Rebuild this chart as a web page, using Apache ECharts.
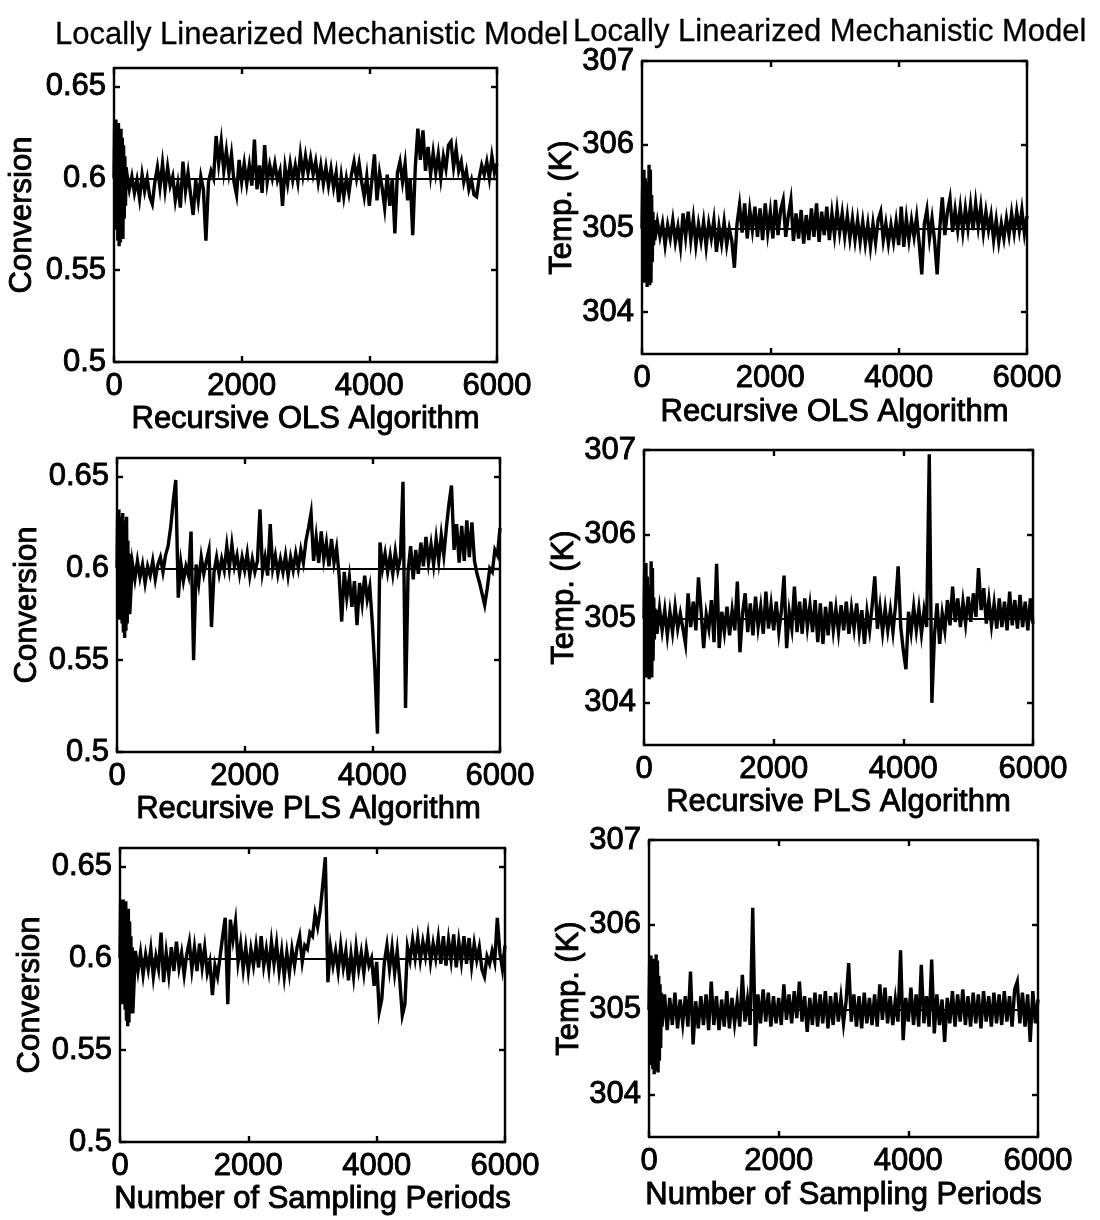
<!DOCTYPE html>
<html>
<head>
<meta charset="utf-8">
<script src="https://cdn.jsdelivr.net/npm/echarts@6/dist/echarts.min.js"></script>
<style>
  html, body { margin: 0; padding: 0; background: #fff; }
  #chart { width: 1100px; height: 1220px; }
</style>
</head>
<body>
<div id="chart"></div>
<script>
// ---- sampling layout: dense start-up samples, then the long run ----
const startupStep = 10;   // periods between start-up samples (periods 0..190)
const mainStart = 200;    // first period of the long run
const mainStep = 40;      // periods between long-run samples (200..6000)

// ---- tick values ----
const xTicks = [0, 2000, 4000, 6000];
const convTicks = [0.5, 0.55, 0.6, 0.65];
const tempTicks = [304, 305, 306, 307];

// ---- set points ----
const convSetpoint = 0.6;
const tempSetpoint = 305;

// ---- texts ----
const titleText = 'Locally Linearized Mechanistic Model';
const rowLabels = ['Recursive OLS Algorithm', 'Recursive PLS Algorithm', 'Number of Sampling Periods'];
const convName = 'Conversion';
const tempName = 'Temp. (K)';

// ---- recursive OLS: conversion ----
const olsConvStartup = [0.600, 0.630, 0.572, 0.632, 0.575, 0.628, 0.566, 0.630, 0.563, 0.625,
  0.565, 0.627, 0.570, 0.622, 0.567, 0.618, 0.578, 0.612, 0.585, 0.606];
const olsConvMain = [
  0.603, 0.594, 0.601, 0.592, 0.599, 0.589, 0.602, 0.593, 0.600, 0.590,
  0.586, 0.598, 0.606, 0.595, 0.608, 0.594, 0.606, 0.596, 0.601, 0.588,
  0.597, 0.584, 0.609, 0.593, 0.603, 0.591, 0.580, 0.599, 0.588, 0.601,
  0.594, 0.566, 0.598, 0.604, 0.600, 0.623, 0.608, 0.620, 0.604, 0.615,
  0.603, 0.613, 0.598, 0.591, 0.610, 0.598, 0.608, 0.597, 0.607, 0.596,
  0.621, 0.594, 0.607, 0.592, 0.618, 0.598, 0.607, 0.600, 0.608, 0.599,
  0.604, 0.585, 0.606, 0.597, 0.608, 0.599, 0.607, 0.598, 0.613, 0.602,
  0.612, 0.603, 0.611, 0.602, 0.609, 0.598, 0.607, 0.597, 0.606, 0.596,
  0.605, 0.595, 0.603, 0.587, 0.601, 0.590, 0.600, 0.592, 0.602, 0.609,
  0.600, 0.608, 0.598, 0.590, 0.601, 0.585, 0.599, 0.613, 0.588, 0.603,
  0.595, 0.584, 0.602, 0.585, 0.600, 0.570, 0.603, 0.609, 0.598, 0.608,
  0.588, 0.600, 0.569, 0.606, 0.627, 0.610, 0.626, 0.604, 0.617, 0.602,
  0.614, 0.603, 0.613, 0.600, 0.612, 0.605, 0.618, 0.620, 0.606, 0.616,
  0.604, 0.609, 0.598, 0.604, 0.594, 0.599, 0.591, 0.590, 0.600, 0.607,
  0.602, 0.609, 0.600, 0.612, 0.603, 0.608];

// ---- recursive OLS: temperature ----
const olsTempStartup = [305.00, 305.50, 304.60, 305.70, 304.35, 305.60, 304.40, 305.30, 304.30, 305.55,
  304.50, 305.76, 304.32, 305.70, 304.35, 305.40, 304.60, 305.20, 304.80, 305.10];
const olsTempMain = [
  304.86, 305.08, 304.90, 305.06, 304.80, 305.04, 304.88, 305.10, 304.84, 305.02,
  304.78, 305.18, 304.90, 305.20, 304.86, 305.12, 304.80, 305.05, 304.85, 305.08,
  304.78, 305.06, 304.88, 305.10, 304.72, 305.02, 304.82, 305.08, 304.80, 305.00,
  304.85, 304.53, 305.05, 305.28, 304.95, 305.30, 304.88, 305.22, 304.98, 305.26,
  304.90, 305.24, 304.86, 305.30, 304.95, 305.20, 304.88, 305.34, 304.92, 305.22,
  305.34, 304.90, 305.15, 305.34, 304.85, 305.18, 304.88, 305.22, 304.82, 305.16,
  304.86, 305.24, 304.90, 305.30, 304.84, 305.20, 304.92, 305.26, 304.86, 305.18,
  304.92, 305.22, 304.95, 305.18, 304.90, 305.15, 304.88, 305.12, 304.86, 305.10,
  304.84, 305.08, 304.82, 305.05, 304.78, 305.06, 304.83, 305.10, 305.20, 304.86,
  305.06, 304.82, 305.04, 304.84, 305.08, 304.80, 305.26, 304.78, 305.12, 304.86,
  305.10, 304.90, 305.14, 304.82, 304.45, 305.05, 305.22, 304.88, 305.12, 304.85,
  304.45, 305.00, 305.37, 304.92, 305.20, 305.36, 304.96, 305.22, 304.98, 305.25,
  304.96, 305.24, 305.00, 305.28, 304.98, 305.30, 305.02, 305.26, 304.95, 305.20,
  304.98, 305.16, 304.86, 305.10, 304.84, 305.06, 304.88, 305.12, 304.92, 305.18,
  304.95, 305.20, 304.98, 305.22, 304.94, 305.15];

// ---- recursive PLS: conversion ----
const plsConvStartup = [0.600, 0.630, 0.575, 0.632, 0.572, 0.628, 0.578, 0.625, 0.570, 0.630,
  0.565, 0.626, 0.562, 0.620, 0.566, 0.628, 0.570, 0.615, 0.580, 0.608];
const plsConvMain = [
  0.575, 0.603, 0.594, 0.604, 0.595, 0.602, 0.592, 0.601, 0.596, 0.604,
  0.594, 0.602, 0.606, 0.598, 0.607, 0.612, 0.622, 0.636, 0.648, 0.584,
  0.603, 0.593, 0.601, 0.596, 0.620, 0.550, 0.602, 0.592, 0.606, 0.597,
  0.604, 0.610, 0.568, 0.598, 0.606, 0.597, 0.605, 0.599, 0.612, 0.600,
  0.613, 0.601, 0.607, 0.597, 0.606, 0.599, 0.608, 0.596, 0.605, 0.598,
  0.604, 0.632, 0.598, 0.606, 0.596, 0.624, 0.600, 0.607, 0.597, 0.605,
  0.598, 0.607, 0.596, 0.606, 0.599, 0.608, 0.600, 0.610, 0.603, 0.615,
  0.622, 0.630, 0.604, 0.617, 0.603, 0.620, 0.605, 0.614, 0.601, 0.616,
  0.603, 0.611, 0.596, 0.571, 0.598, 0.584, 0.595, 0.579, 0.593, 0.569,
  0.592, 0.581, 0.596, 0.583, 0.590, 0.570, 0.545, 0.510, 0.614, 0.600,
  0.608, 0.598, 0.607, 0.597, 0.609, 0.599, 0.606, 0.647, 0.524, 0.598,
  0.612, 0.594, 0.610, 0.597, 0.614, 0.601, 0.617, 0.603, 0.613, 0.602,
  0.616, 0.604, 0.618, 0.607, 0.622, 0.635, 0.645, 0.610, 0.624, 0.603,
  0.623, 0.604, 0.626, 0.606, 0.625, 0.604, 0.597, 0.592, 0.586, 0.580,
  0.589, 0.600, 0.598, 0.610, 0.607, 0.622];

// ---- recursive PLS: temperature ----
const plsTempStartup = [305.00, 305.60, 304.50, 305.66, 304.30, 305.50, 304.35, 305.40, 304.28, 305.30,
  304.40, 305.68, 304.30, 305.60, 304.50, 305.25, 304.75, 305.12, 304.85, 305.10];
const plsTempMain = [
  304.82, 305.12, 304.86, 305.10, 304.80, 305.08, 304.84, 305.14, 304.88, 305.06,
  304.88, 304.70, 305.30, 304.90, 305.20, 304.86, 305.49, 305.10, 304.65, 305.05,
  304.88, 305.22, 304.72, 305.65, 304.65, 305.08, 304.84, 305.14, 304.80, 305.10,
  304.86, 305.44, 304.60, 305.06, 305.30, 304.84, 305.18, 304.80, 305.26, 304.90,
  305.14, 304.82, 305.32, 304.88, 305.16, 304.86, 305.20, 304.84, 305.10, 305.51,
  304.65, 305.08, 304.88, 305.38, 304.84, 305.20, 304.82, 305.24, 304.90, 305.16,
  304.84, 305.22, 304.72, 305.18, 304.70, 305.14, 304.80, 305.20, 304.86, 305.12,
  304.84, 305.16, 304.86, 305.20, 304.82, 305.12, 304.88, 305.18, 304.84, 305.10,
  304.70, 305.08, 304.86, 305.16, 305.50, 304.88, 305.14, 304.84, 305.12, 304.86,
  305.10, 304.84, 305.16, 305.62, 304.90, 304.62, 304.40, 305.08, 304.84, 305.14,
  304.86, 305.12, 304.82, 305.10, 304.90, 306.95, 304.00, 304.80, 305.18, 304.70,
  305.06, 304.86, 305.22, 304.92, 305.38, 304.96, 305.24, 304.90, 305.20, 304.94,
  305.26, 304.96, 305.30, 305.02, 305.60, 305.10, 305.36, 304.94, 305.22, 304.92,
  305.18, 304.88, 305.24, 304.90, 305.20, 304.86, 305.32, 304.92, 305.22, 304.88,
  305.28, 304.90, 305.20, 304.86, 305.24, 304.94];

// ---- mechanistic model: conversion ----
const mechConvStartup = [0.600, 0.632, 0.578, 0.630, 0.575, 0.632, 0.580, 0.628, 0.572, 0.631,
  0.566, 0.625, 0.563, 0.627, 0.565, 0.620, 0.570, 0.612, 0.578, 0.606];
const mechConvMain = [
  0.570, 0.604, 0.593, 0.603, 0.591, 0.602, 0.594, 0.605, 0.590, 0.601,
  0.594, 0.614, 0.587, 0.603, 0.591, 0.606, 0.593, 0.609, 0.595, 0.603,
  0.591, 0.602, 0.609, 0.594, 0.606, 0.593, 0.608, 0.595, 0.606, 0.592,
  0.598, 0.580, 0.596, 0.590, 0.601, 0.612, 0.622, 0.575, 0.621, 0.610,
  0.620, 0.598, 0.608, 0.594, 0.606, 0.593, 0.605, 0.596, 0.607, 0.595,
  0.612, 0.596, 0.605, 0.594, 0.609, 0.597, 0.608, 0.593, 0.604, 0.590,
  0.603, 0.592, 0.605, 0.596, 0.606, 0.612, 0.598, 0.607, 0.605, 0.614,
  0.612, 0.624, 0.617, 0.626, 0.640, 0.655, 0.587, 0.606, 0.596, 0.604,
  0.593, 0.607, 0.595, 0.604, 0.588, 0.602, 0.590, 0.606, 0.594, 0.603,
  0.592, 0.605, 0.596, 0.600, 0.585, 0.598, 0.571, 0.578, 0.598, 0.607,
  0.594, 0.606, 0.592, 0.604, 0.588, 0.569, 0.575, 0.606, 0.599, 0.610,
  0.600, 0.611, 0.599, 0.609, 0.601, 0.612, 0.598, 0.608, 0.600, 0.611,
  0.597, 0.612, 0.596, 0.610, 0.599, 0.613, 0.595, 0.609, 0.598, 0.612,
  0.597, 0.611, 0.596, 0.608, 0.599, 0.606, 0.594, 0.590, 0.601, 0.597,
  0.604, 0.598, 0.622, 0.603, 0.594, 0.607];

// ---- mechanistic model: temperature ----
const mechTempStartup = [305.00, 305.55, 304.50, 305.64, 304.35, 305.45, 304.30, 305.60, 304.24, 305.50,
  304.28, 305.65, 304.35, 305.58, 304.26, 305.40, 304.40, 305.30, 304.55, 305.20];
const mechTempMain = [
  304.80, 305.18, 304.76, 305.14, 304.82, 305.20, 304.78, 305.12, 304.84, 305.16,
  304.80, 305.45, 304.59, 305.10, 304.78, 305.16, 304.82, 305.18, 304.76, 305.33,
  304.82, 305.16, 304.76, 305.12, 304.80, 305.22, 304.78, 305.14, 304.84, 305.10,
  304.80, 305.41, 304.86, 305.12, 304.82, 306.20, 304.57, 305.18, 304.84, 305.24,
  304.86, 305.20, 304.80, 305.16, 304.84, 305.14, 304.82, 305.30, 304.88, 305.18,
  304.84, 305.22, 304.90, 305.33, 304.86, 305.16, 304.74, 305.14, 304.82, 305.20,
  304.80, 305.18, 304.84, 305.22, 304.78, 305.16, 304.82, 305.20, 304.86, 305.14,
  304.84, 305.10, 305.55, 304.86, 305.18, 304.80, 305.16, 304.78, 305.20, 304.84,
  305.14, 304.82, 305.18, 304.80, 305.30, 304.88, 305.26, 304.84, 305.16, 304.82,
  305.12, 304.86, 305.70, 304.64, 305.14, 304.86, 305.26, 304.82, 305.18, 304.80,
  305.53, 304.84, 305.16, 304.80, 305.59, 304.72, 305.18, 304.82, 305.12, 304.62,
  305.14, 304.84, 305.22, 304.80, 305.18, 304.86, 305.24, 304.82, 305.16, 304.80,
  305.20, 304.84, 305.18, 304.78, 305.22, 304.86, 305.16, 304.80, 305.20, 304.84,
  305.18, 304.82, 305.22, 304.86, 305.16, 304.80, 305.24, 305.33, 304.84, 305.20,
  304.80, 305.18, 304.62, 305.22, 304.84, 305.12];

// ---- drawing ----
const FONT = "'Liberation Sans', Arial, Helvetica, sans-serif";
const INK = '#000';

function trace(startup, main) {
  const pts = startup.map((v, i) => [i * startupStep, v]);
  return pts.concat(main.map((v, i) => [mainStart + i * mainStep, v]));
}

// one entry per panel: plot box, variable and axis-name spacing
const panels = [
  { box: [114, 68, 383, 294],  kind: 'conv', row: 0, s: olsConvStartup,  m: olsConvMain,  yGap: 76, xGap: 40 },
  { box: [642, 61, 385, 293],  kind: 'temp', row: 0, s: olsTempStartup,  m: olsTempMain,  yGap: 56, xGap: 43 },
  { box: [117, 458, 383, 294], kind: 'conv', row: 1, s: plsConvStartup,  m: plsConvMain,  yGap: 74, xGap: 40 },
  { box: [644, 450, 389, 295], kind: 'temp', row: 1, s: plsTempStartup,  m: plsTempMain,  yGap: 58, xGap: 42 },
  { box: [120, 848, 385, 294], kind: 'conv', row: 2, s: mechConvStartup, m: mechConvMain, yGap: 74, xGap: 42 },
  { box: [649, 840, 389, 297], kind: 'temp', row: 2, s: mechTempStartup, m: mechTempMain, yGap: 61, xGap: 43 }
];

// axis texts are set heavier than the headings
const textStyle = { color: INK, fontFamily: FONT, fontSize: 31, textBorderColor: INK, textBorderWidth: 0.9 };
const titleStyle = { color: INK, fontFamily: FONT, fontSize: 31, fontWeight: 'normal', textBorderColor: INK, textBorderWidth: 0.3 };
const lineStyle = { color: INK, width: 2.4 };
const plain = v => String(v);

const grid = [], xAxis = [], yAxis = [], series = [];
panels.forEach((p, i) => {
  const [left, top, width, height] = p.box;
  grid.push({ left, top, width, height, containLabel: false });
  const isConv = p.kind === 'conv';
  const yTicks = isConv ? convTicks : tempTicks;
  const yMin = isConv ? 0.5 : 303.5;
  const yMax = isConv ? 0.66 : 307;
  const setpoint = isConv ? convSetpoint : tempSetpoint;

  const xCommon = {
    type: 'value', gridIndex: i, min: 0, max: 6000, splitLine: { show: false },
    axisLine: { show: true, onZero: false, lineStyle },
    axisTick: { show: true, inside: true, length: 6, customValues: xTicks, lineStyle }
  };
  xAxis.push(Object.assign({}, xCommon, {
    position: 'bottom',
    name: rowLabels[p.row], nameLocation: 'middle', nameGap: p.xGap, nameTextStyle: textStyle,
    axisLabel: Object.assign({ show: true, customValues: xTicks, margin: 9, formatter: plain }, textStyle)
  }));
  xAxis.push(Object.assign({}, xCommon, { position: 'top', axisLabel: { show: false } }));

  const yCommon = {
    type: 'value', gridIndex: i, min: yMin, max: yMax, splitLine: { show: false },
    axisLine: { show: true, onZero: false, lineStyle },
    axisTick: { show: true, inside: true, length: 6, customValues: yTicks, lineStyle }
  };
  yAxis.push(Object.assign({}, yCommon, {
    position: 'left',
    name: isConv ? convName : tempName, nameLocation: 'middle', nameGap: p.yGap, nameTextStyle: textStyle,
    axisLabel: Object.assign({ show: true, customValues: yTicks, margin: 8, formatter: plain }, textStyle)
  }));
  yAxis.push(Object.assign({}, yCommon, { position: 'right', axisLabel: { show: false } }));

  series.push({
    type: 'line', xAxisIndex: 2 * i, yAxisIndex: 2 * i,
    data: trace(p.s, p.m), symbol: 'none', sampling: null, clip: true,
    lineStyle: { color: INK, width: 3.4, join: 'miter' }, itemStyle: { color: INK },
    silent: true,
    markLine: {
      silent: true, symbol: 'none', label: { show: false },
      lineStyle: { color: INK, width: 2, type: 'solid' },
      data: [{ yAxis: setpoint }]
    }
  });
});

const chart = echarts.init(document.getElementById('chart'), null, { renderer: 'canvas' });
chart.setOption({
  animation: false,
  backgroundColor: '#fff',
  title: [
    { text: titleText, left: 50, top: 15, textStyle: titleStyle },
    { text: titleText, left: 568, top: 12, textStyle: titleStyle }
  ],
  grid, xAxis, yAxis, series
});
</script>
</body>
</html>
